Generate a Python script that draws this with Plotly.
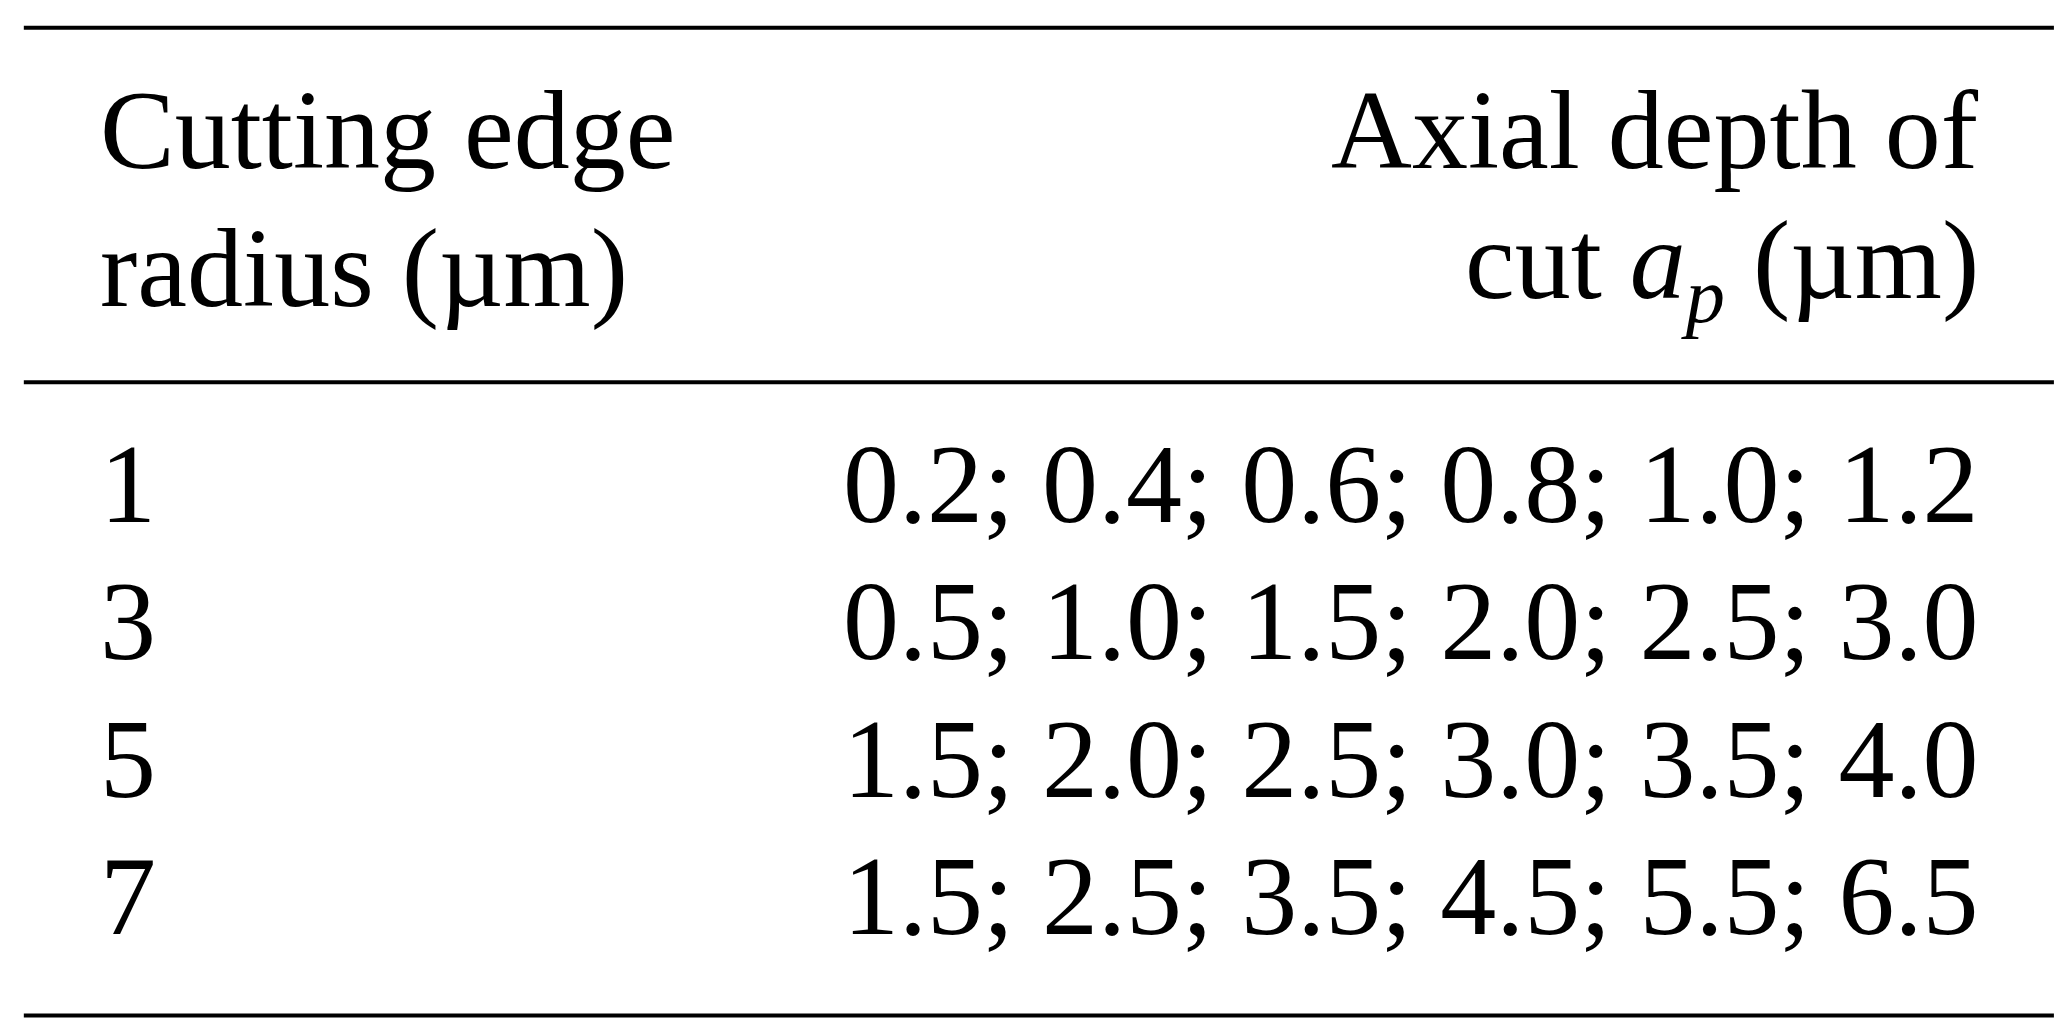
import plotly.graph_objects as go

header_left = ["Cutting edge", "radius (µm)"]
header_right = ["Axial depth of", "cut <i>a</i><sub><i>p</i></sub> (µm)"]
radii = ["1", "3", "5", "7"]
depths = ["0.2; 0.4; 0.6; 0.8; 1.0; 1.2",
          "0.5; 1.0; 1.5; 2.0; 2.5; 3.0",
          "1.5; 2.0; 2.5; 3.0; 3.5; 4.0",
          "1.5; 2.5; 3.5; 4.5; 5.5; 6.5"]

H = 776.0
W = 1568.0
def py(y): return 1 - y / H
def px(x): return x / W

font = dict(family="Liberation Serif", size=112, color="black")
fig = go.Figure()
fig.update_layout(width=2067, height=1026, margin=dict(l=0, r=0, t=0, b=0),
                  paper_bgcolor="white", plot_bgcolor="white",
                  xaxis=dict(visible=False), yaxis=dict(visible=False))
for y in [15, 283, 762]:
    fig.add_shape(type="line", xref="paper", yref="paper", x0=px(12), x1=px(1552),
                  y0=py(y), y1=py(y), line=dict(color="black", width=4))
ann = []
for i, t in enumerate(header_left):
    ann.append(dict(text=t, x=px(68), y=py(92 + 105 * i), xanchor="left", yanchor="middle"))
for i, t in enumerate(header_right):
    ann.append(dict(text=t, x=px(1497), y=py(92 + 105 * i), xanchor="right", yanchor="middle"))
for i, (r, d) in enumerate(zip(radii, depths)):
    yy = py(360 + 104 * i)
    ann.append(dict(text=r, x=px(68), y=yy, xanchor="left", yanchor="middle"))
    ann.append(dict(text=d, x=px(1497), y=yy, xanchor="right", yanchor="middle"))
for a in ann:
    fig.add_annotation(xref="paper", yref="paper", showarrow=False, font=font, **a)
fig.write_html("out.html")
